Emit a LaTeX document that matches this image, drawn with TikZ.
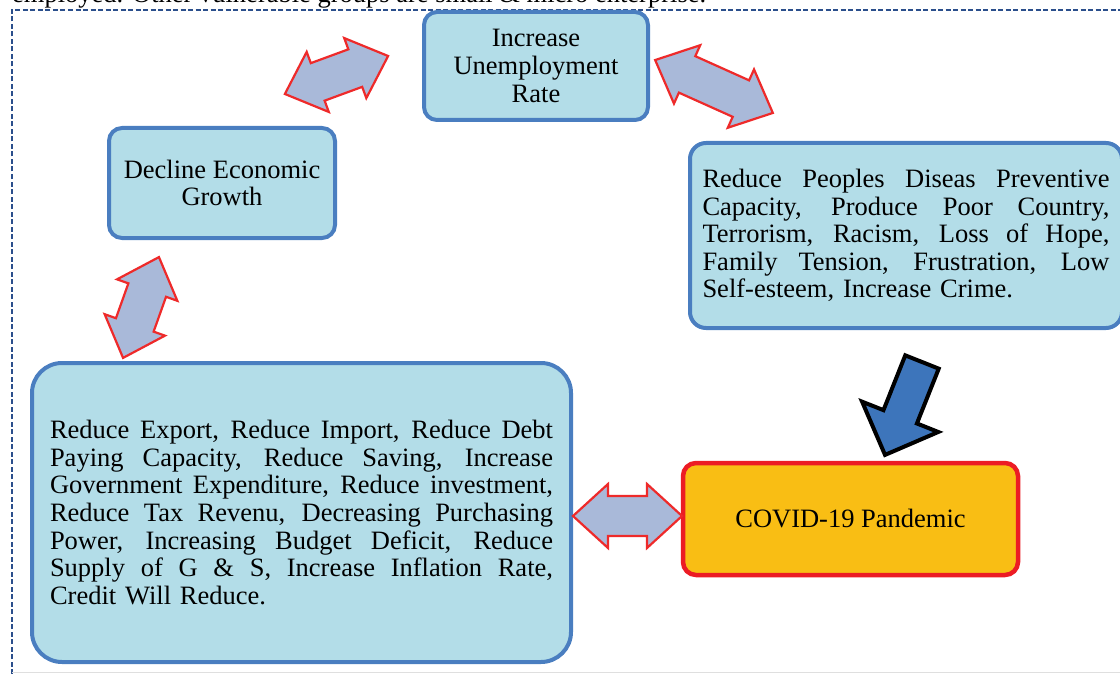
\documentclass[tikz,border=0pt]{standalone}
\usepackage{fontspec}
\setmainfont{Liberation Serif}
\definecolor{boxfill}{HTML}{B3DDE8}
\definecolor{boxline}{HTML}{4A7EC0}
\definecolor{arrfill}{HTML}{A9B9D9}
\definecolor{arrline}{HTML}{EE2A2A}
\definecolor{covfill}{HTML}{F9BE14}
\definecolor{covline}{HTML}{EC1C24}
\definecolor{bluearr}{HTML}{3D75BB}
\definecolor{frameblue}{HTML}{2B4F8C}
\newcommand{\dbla}[4]{%
  \draw[dblarrow, shift={(#1,#2)}, rotate=#3]
    ({-#4/2},0) -- ({-#4/2+35},-32) -- ({-#4/2+35},-20) -- ({#4/2-35},-20)
    -- ({#4/2-35},-32) -- ({#4/2},0) -- ({#4/2-35},32) -- ({#4/2-35},20)
    -- ({-#4/2+35},20) -- ({-#4/2+35},32) -- cycle;}
\newcommand{\jl}[2]{\leavevmode\hbox to #1{\spaceskip=0.25em plus 1fil\relax #2}\\}
\begin{document}
\begin{tikzpicture}[x=1pt,y=-1pt,
  txt/.style={font=\fontsize{26.5}{27.6}\selectfont},
  box/.style={txt, draw=boxline, fill=boxfill, line width=4pt, rounded corners=13pt, inner sep=0pt, align=center},
  covbox/.style={txt, draw=covline, fill=covfill, line width=4.5pt, rounded corners=13pt, inner sep=0pt, align=center},
  dblarrow/.style={fill=arrfill, draw=arrline, line width=2.2pt, line join=miter},
  bluearrow/.style={fill=bluearr, draw=black, line width=4pt, line join=miter},
  frame/.style={draw=frameblue, line width=1.5pt, dash pattern=on 5pt off 2.5pt}]
\useasboundingbox (0,0) rectangle (1120,674);
\clip (0,0) rectangle (1120,674);
\node[txt, anchor=base west, inner sep=0pt] (cap) at (12,3) {employed. Other vulnerable groups are small \& micro enterprise.};
\draw[frame] (12,674) -- (12,10) -- (1120,10);
\draw[gray!25, line width=0.6pt] (12,672) -- (1120,672);

\node[box, minimum width=224, minimum height=108] (inc) at (536,66) {Increase\\Unemployment\\Rate};
\node[box, minimum width=226, minimum height=110] (dec) at (222,183) {Decline Economic\\Growth};
\node[box, rounded corners=16pt, minimum width=432, minimum height=185, text width=407, align=left] (eff) at (906,235.5) {%
\jl{407pt}{Reduce Peoples Diseas Preventive}%
\jl{407pt}{Capacity, Produce Poor Country,}%
\jl{407pt}{Terrorism, Racism, Loss of Hope,}%
\jl{407pt}{Family Tension, Frustration, Low}%
Self-esteem, Increase Crime.};
\node[box, rounded corners=30pt, minimum width=539, minimum height=299, text width=503, align=left] (eco) at (301.5,512.5) {%
\jl{503pt}{Reduce Export, Reduce Import, Reduce Debt}%
\jl{503pt}{Paying Capacity, Reduce Saving, Increase}%
\jl{503pt}{Government Expenditure, Reduce investment,}%
\jl{503pt}{Reduce Tax Revenu, Decreasing Purchasing}%
\jl{503pt}{Power, Increasing Budget Deficit, Reduce}%
\jl{503pt}{Supply of G \& S, Increase Inflation Rate,}%
Credit Will Reduce.};
\node[covbox, minimum width=335, minimum height=112] (cov) at (850.5,519) {COVID-19 Pandemic};

\dbla{336.5}{75}{20.2}{110}
\dbla{714}{86.5}{-24.2}{129}
\dbla{141}{307.5}{70.4}{107}
\dbla{627.5}{516}{0}{109}

\draw[bluearrow, shift={(922,362)}, rotate=-111.7]
  (0,-18) -- (59,-18) -- (59,-41) -- (100,0) -- (59,41) -- (59,18) -- (0,18) -- cycle;
\end{tikzpicture}
\end{document}
